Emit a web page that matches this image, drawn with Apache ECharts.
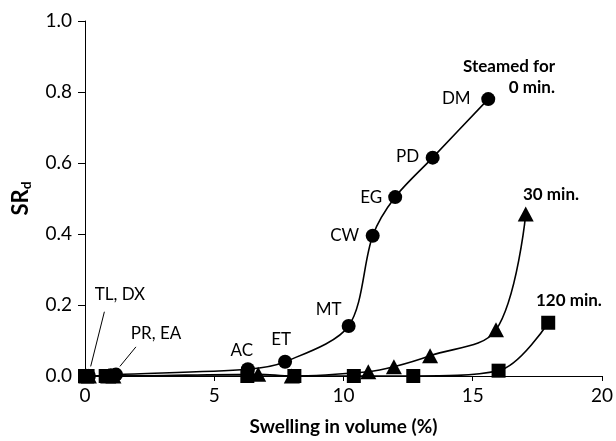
<!DOCTYPE html>
<html>
<head>
<meta charset="utf-8">
<script src="https://cdn.jsdelivr.net/npm/echarts@6/dist/echarts.min.js"></script>
<style>
  html, body { margin: 0; padding: 0; background: #fff; }
  #chart { width: 616px; height: 441px; }
</style>
</head>
<body>
<div id="chart"></div>
<script>
// Swelling in volume (%) vs SRd for three steaming times
const xTicks = [0, 5, 10, 15, 20];
const yTicks = [0.0, 0.2, 0.4, 0.6, 0.8, 1.0];

// Steamed for 0 min (circles), with solvent labels
const swell0 = [0.05, 0.15, 1.0, 1.2, 6.3, 7.74, 10.2, 11.13, 12.0, 13.45, 15.6];
const sr0 = [0.0, 0.0, 0.002, 0.004, 0.019, 0.040, 0.141, 0.395, 0.504, 0.615, 0.780];
const names0 = ['', 'TL, DX', '', 'PR, EA', 'AC', 'ET', 'MT', 'CW', 'EG', 'PD', 'DM'];

// Steamed for 30 min (triangles)
const swell30 = [0.05, 0.15, 0.9, 1.1, 6.7, 8.0, 10.96, 11.95, 13.35, 15.9, 17.05];
const sr30 = [0.0, 0.0, 0.0, 0.0, 0.005, 0.0, 0.012, 0.026, 0.057, 0.130, 0.456];

// Steamed for 120 min (squares)
const swell120 = [0.0, 0.1, 0.8, 1.0, 6.28, 8.1, 10.4, 12.7, 16.0, 17.92];
const sr120 = [0.0, 0.0, 0.0, 0.0, 0.0, 0.0, 0.0, 0.0, 0.015, 0.150];

// Leader lines from the clustered points near the origin to their labels
const leaderTL = [[0.22, 0.027], [0.75, 0.181]];
const leaderPR = [[1.35, 0.027], [1.97, 0.082]];

// label offsets (px) relative to each labelled point
const labelOffset = {
  'TL, DX': [31, -81], 'PR, EA': [40, -41], 'AC': [-6, -19], 'ET': [-4, -22],
  'MT': [-20, -16], 'CW': [-28, 0], 'EG': [-24, 0], 'PD': [-25, -1], 'DM': [-32, -1]
};

const FONT = 'Lato, "Open Sans", sans-serif';

const pairs = (xs, ys) => xs.map((x, i) => [x, ys[i]]);

const data0 = swell0.map((x, i) => {
  const n = names0[i];
  const item = { name: n, value: [x, sr0[i]] };
  if (n) {
    item.label = { show: true, position: 'inside', offset: labelOffset[n], formatter: '{b}' };
  }
  return item;
});

const chart = echarts.init(document.getElementById('chart'), null, { renderer: 'canvas' });

const baseLine = { color: '#000', width: 1.6 };

chart.setOption({
  animation: false,
  backgroundColor: '#fff',
  grid: { left: 85, right: 14, top: 21, bottom: 64 },
  xAxis: {
    type: 'value', min: xTicks[0], max: xTicks[xTicks.length - 1], interval: 5,
    name: 'Swelling in volume (%)', nameLocation: 'middle', nameGap: 41,
    nameTextStyle: { fontFamily: FONT, fontSize: 19, fontWeight: 'bold', color: '#000' },
    axisLine: { lineStyle: { color: '#000', width: 1 } },
    axisTick: { show: true, length: 5, inside: false, lineStyle: { color: '#000' } },
    axisLabel: { fontFamily: FONT, fontSize: 19, color: '#000', margin: 10 },
    splitLine: { show: false }
  },
  yAxis: {
    type: 'value', min: yTicks[0], max: yTicks[yTicks.length - 1], interval: 0.2,
    name: '{a|SR}{b|d}', nameLocation: 'middle', nameGap: 52, nameRotate: 90,
    nameTextStyle: {
      color: '#000',
      rich: {
        a: { fontFamily: FONT, fontSize: 22, fontWeight: 'bold', color: '#000' },
        b: { fontFamily: FONT, fontSize: 14, fontWeight: 'bold', color: '#000', padding: [10, 0, 0, 0] }
      }
    },
    axisLine: { show: true, lineStyle: { color: '#000', width: 1 } },
    axisTick: { show: true, length: 7, inside: false, lineStyle: { color: '#000' } },
    axisLabel: { fontFamily: FONT, fontSize: 19, color: '#000', margin: 13, formatter: v => v.toFixed(1) },
    splitLine: { show: false }
  },
  series: [
    {
      name: '120 min.', type: 'line', data: pairs(swell120, sr120),
      smooth: 0.35, symbol: 'rect', symbolSize: 14, showAllSymbol: true,
      itemStyle: { color: '#000' }, lineStyle: baseLine, z: 2
    },
    {
      name: '30 min.', type: 'line', data: pairs(swell30, sr30),
      smooth: 0.35, symbol: 'triangle', symbolSize: [16, 15], showAllSymbol: true,
      itemStyle: { color: '#000' }, lineStyle: baseLine, z: 3
    },
    {
      name: '0 min.', type: 'line', data: data0,
      smooth: 0.3, symbol: 'circle', symbolSize: 14, showAllSymbol: true,
      itemStyle: { color: '#000' }, lineStyle: baseLine, z: 4,
      label: { fontFamily: FONT, fontSize: 17, color: '#000' },
      markLine: {
        silent: true, symbol: 'none',
        lineStyle: { color: '#000', width: 1, type: 'solid' },
        label: { show: false },
        data: [
          [{ coord: leaderTL[0] }, { coord: leaderTL[1] }],
          [{ coord: leaderPR[0] }, { coord: leaderPR[1] }]
        ]
      }
    }
  ],
  graphic: [
    {
      type: 'text', x: 555, y: 58,
      style: { text: 'Steamed for', align: 'right', verticalAlign: 'top', font: 'bold 17px ' + FONT, fill: '#000' }
    },
    {
      type: 'text', x: 555, y: 79,
      style: { text: '0 min.', align: 'right', verticalAlign: 'top', font: 'bold 17px ' + FONT, fill: '#000' }
    },
    {
      type: 'text', x: 523, y: 186,
      style: { text: '30 min.', verticalAlign: 'top', font: 'bold 17px ' + FONT, fill: '#000' }
    },
    {
      type: 'text', x: 536, y: 292,
      style: { text: '120 min.', verticalAlign: 'top', font: 'bold 17px ' + FONT, fill: '#000' }
    }
  ]
});
</script>
</body>
</html>
